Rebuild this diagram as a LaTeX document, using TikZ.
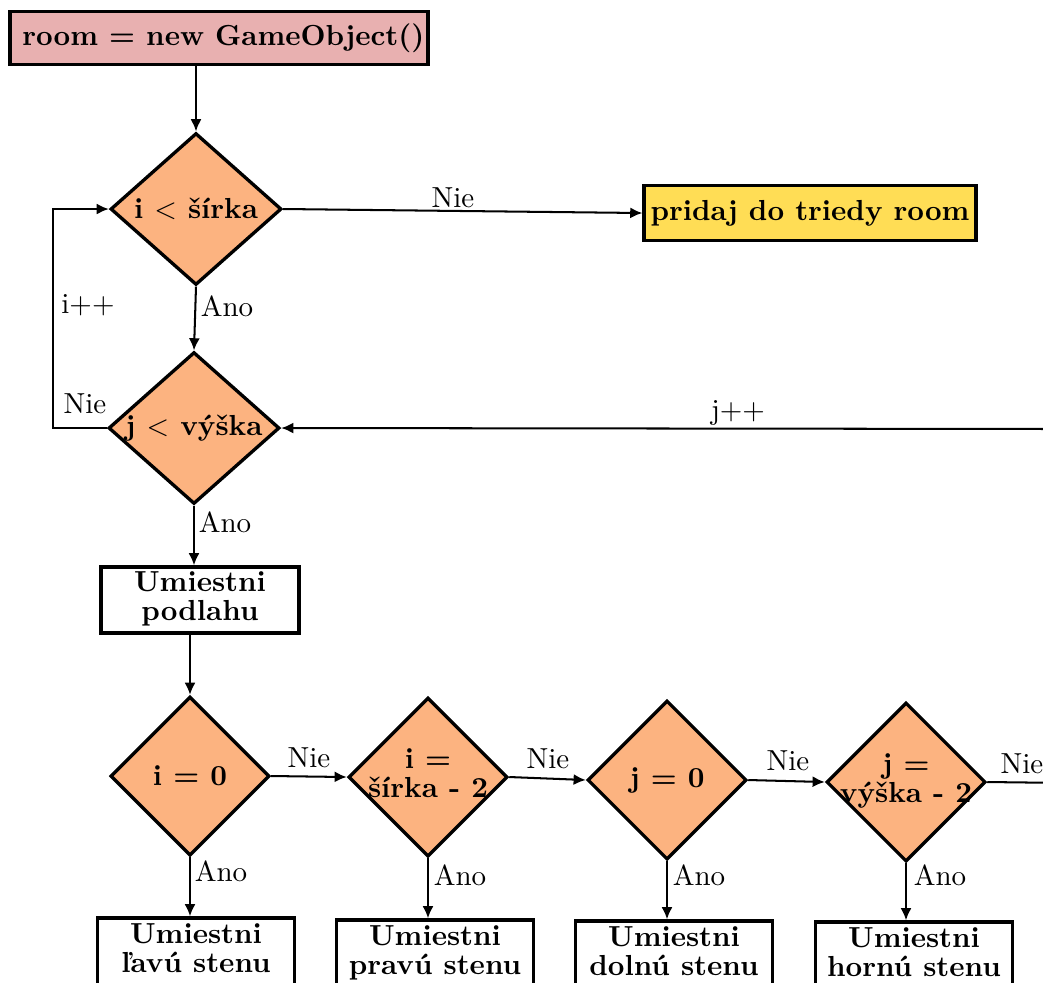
\documentclass[tikz,border=0pt]{standalone}
\usepackage{fontspec}
\usetikzlibrary{shapes.geometric,arrows.meta,calc}
\definecolor{pinkfill}{HTML}{E8B0B0}
\definecolor{orangefill}{HTML}{FCB380}
\definecolor{yellowfill}{HTML}{FFDD55}
\newcommand{\mytwol}[2]{\renewcommand{\arraystretch}{0.8}\begin{tabular}{@{}c@{}}#1\\#2\end{tabular}}
\begin{document}
\begin{tikzpicture}[x=0.345pt,y=-0.345pt,
  box/.style={draw,line width=1.15pt,rectangle,inner sep=0pt,align=center,font=\bfseries},
  dec/.style={draw,line width=1.15pt,diamond,fill=orangefill,inner sep=0pt,font=\bfseries},
  bigdec/.style={dec,minimum width=59pt,minimum height=52.4pt},
  smalldec/.style={dec,minimum width=54.9pt,minimum height=54.9pt},
  wallbox/.style={box,minimum width=68pt,minimum height=23.5pt},
  conn/.style={line width=0.7pt,-{Latex[length=4.2pt,width=3.8pt]}},
  plain/.style={line width=0.7pt},
  lbl/.style={inner sep=1pt}]
\useasboundingbox (0,0) rectangle (1043,982);
% nodes
\node[box,fill=pinkfill,minimum width=144.2pt,minimum height=18.3pt] (start) at (219,38) {\hspace*{3pt}room = new GameObject()};
\node[bigdec] (d1) at (196,209) {\makebox[0pt]{i $<$ šírka}};
\node[box,fill=yellowfill,minimum width=114.5pt,minimum height=19pt] (pridaj) at (810,213) {pridaj do triedy room};
\node[bigdec] (d2) at (194,428) {\makebox[0pt]{j $<$ výška}};
\node[box,minimum width=68.3pt,minimum height=22.8pt] (podlaha) at (200,600) {\mytwol{Umiestni}{podlahu}};
\node[smalldec] (c1) at (190,776) {\makebox[0pt]{i = 0}};
\node[smalldec] (c2) at (428,777) {\makebox[0pt]{\mytwol{i =}{šírka - 2}}};
\node[smalldec] (c3) at (667,780) {\makebox[0pt]{j = 0}};
\node[smalldec] (c4) at (906,782) {\makebox[0pt]{\mytwol{j =}{výška - 2}}};
\node[wallbox] (b1) at (196,952) {\mytwol{Umiestni}{ľavú stenu}};
\node[wallbox] (b2) at (435,954) {\mytwol{Umiestni}{pravú stenu}};
\node[wallbox] (b3) at (674,955) {\mytwol{Umiestni}{dolnú stenu}};
\node[wallbox] (b4) at (914,956) {\mytwol{Umiestni}{hornú stenu}};
\coordinate (jin) at (1070,429);
\coordinate (nout) at (1070,783);
% connectors
\draw[conn] (d1.north |- start.south) -- (d1.north);
\draw[conn] (d1.east) -- (pridaj.west);
\draw[conn] (d1.south) -- (d2.north);
\draw[conn] (d2.west) -- ++(-54,0) |- (d1.west);
\draw[conn] (jin) -- (d2.east);
\draw[conn] (d2.south) -- (d2.south |- podlaha.north);
\draw[conn] (c1.north |- podlaha.south) -- (c1.north);
\draw[conn] (c1.east) -- (c2.west);
\draw[conn] (c2.east) -- (c3.west);
\draw[conn] (c3.east) -- (c4.west);
\draw[plain] (c4.east) -- (nout);
\draw[conn] (c1.south) -- (c1.south |- b1.north);
\draw[conn] (c2.south) -- (c2.south |- b2.north);
\draw[conn] (c3.south) -- (c3.south |- b3.north);
\draw[conn] (c4.south) -- (c4.south |- b4.north);
% labels
\node[lbl] (l1) at (453,198) {Nie};
\node[lbl] (l2) at (227,306) {Ano};
\node[lbl] (l3) at (88,305) {i++};
\node[lbl] (l4) at (85,404) {Nie};
\node[lbl] (l5) at (738,413) {j++};
\node[lbl] (l6) at (225,522) {Ano};
\node[lbl] (l7) at (309,758) {Nie};
\node[lbl] (l8) at (548,759) {Nie};
\node[lbl] (l9) at (788,761) {Nie};
\node[lbl] (l10) at (1022,764) {Nie};
\node[lbl] (l11) at (221,871) {Ano};
\node[lbl] (l12) at (460,875) {Ano};
\node[lbl] (l13) at (699,875) {Ano};
\node[lbl] (l14) at (940,875) {Ano};
\end{tikzpicture}
\end{document}
